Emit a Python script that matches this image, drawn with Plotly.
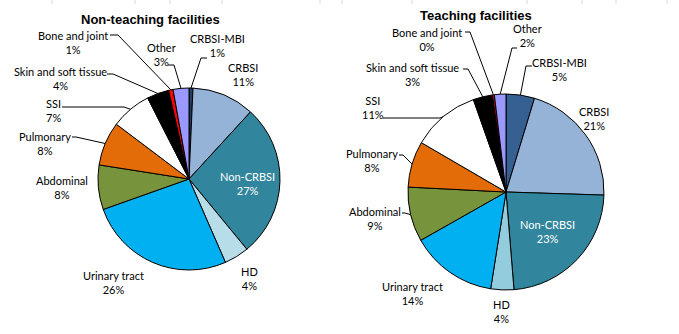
import math
import plotly.graph_objects as go

# Infection categories, clockwise from 12 o'clock
categories = ["CRBSI-MBI", "CRBSI", "Non-CRBSI", "HD", "Urinary tract", "Abdominal",
              "Pulmonary", "SSI", "Skin and soft tissue", "Bone and joint", "Other"]

# Share of infections (%)
non_teaching = [0.7, 11.1, 27.2, 4.4, 26.1, 7.9, 7.8, 7.2, 3.9, 0.8, 2.8]
teaching = [4.7, 20.8, 23.2, 3.8, 14.3, 9.0, 7.6, 11.2, 3.2, 0.3, 1.9]

titles = ["Non-teaching facilities", "Teaching facilities"]

colors_nt = ["#243F60", "#95B3D7", "#31859C", "#B7DEE8", "#00B0F0", "#77933C",
             "#E36C09", "#FFFFFF", "#000000", "#FF0000", "#9999FF"]
colors_t = ["#376092", "#95B3D7", "#31859C", "#93CDDD", "#00B0F0", "#77933C",
            "#E36C09", "#FFFFFF", "#000000", "#FF0000", "#9999FF"]

W, H = 679, 334
FONT = "Lato"

# pie geometry in pixels: centre x, centre y, radius
pies = [
    dict(values=non_teaching, colors=colors_nt, cx=189, cy=179, r=91, title_xy=(150, 19)),
    dict(values=teaching, colors=colors_t, cx=506, cy=192, r=98, title_xy=(476, 15)),
]

# label placement: category -> (text centre x, y, text colour, leader start, leader elbow)
label_layout = [
    {
        "CRBSI-MBI": (217, 45, "black", (207, 58), (201, 58)),
        "CRBSI": (243, 74, "black", None, None),
        "Non-CRBSI": (247, 183, "white", None, None),
        "HD": (249, 278, "black", None, None),
        "Urinary tract": (113, 282, "black", None, None),
        "Abdominal": (62, 187, "black", None, None),
        "Pulmonary": (45, 143, "black", (72, 137), (76, 137)),
        "SSI": (53, 110, "black", (62, 107), (124, 107)),
        "Skin and soft tissue": (60, 78, "black", (107, 74), (113, 74)),
        "Bone and joint": (73, 42, "black", (110, 35), (118, 35)),
        "Other": (161, 54, "black", (168, 65), (174, 65)),
    },
    {
        "CRBSI-MBI": (559, 69, "black", (532, 66), (526, 66)),
        "CRBSI": (594, 118, "black", None, None),
        "Non-CRBSI": (547, 231, "white", None, None),
        "HD": (501, 311, "black", None, None),
        "Urinary tract": (412, 293, "black", None, None),
        "Abdominal": (375, 218, "black", (402, 213), (405, 213)),
        "Pulmonary": (372, 160, "black", (399, 155), (403, 155)),
        "SSI": (373, 107, "black", (383, 118), (440, 118)),
        "Skin and soft tissue": (412, 74, "black", (463, 69), (468, 69)),
        "Bone and joint": (427, 39, "black", (465, 32), (470, 32)),
        "Other": (527, 35, "black", (517, 48), (512, 48)),
    },
]

fig = go.Figure()

# invisible pixel-space axes for labels and leader lines
fig.add_trace(go.Scatter(x=[0, W], y=[0, H], mode="markers",
                         marker=dict(opacity=0), hoverinfo="skip", showlegend=False))

annotations = []
shapes = []

for pie, layout_map, title in zip(pies, label_layout, titles):
    vals = pie["values"]
    cx, cy, r = pie["cx"], pie["cy"], pie["r"]
    fig.add_trace(go.Pie(
        labels=categories, values=vals, sort=False, direction="clockwise", rotation=0,
        marker=dict(colors=pie["colors"], line=dict(color="#000000", width=1)),
        textinfo="none", hoverinfo="label+percent", showlegend=False,
        domain=dict(x=[(cx - r) / W, (cx + r) / W], y=[(H - cy - r) / H, (H - cy + r) / H]),
    ))

    total = sum(vals)
    cum = 0.0
    for cat, v in zip(categories, vals):
        mid = (cum + v / 2) / total * 2 * math.pi
        cum += v
        pct = round(100 * v / total)
        tx, ty, tcol, start, elbow = layout_map[cat]
        annotations.append(dict(
            x=tx, y=ty, xref="x", yref="y", showarrow=False,
            text=f"{cat}<br>{pct}%", align="center",
            font=dict(family=FONT, size=11, color=tcol),
        ))
        if start is not None:
            ex = cx + r * math.sin(mid)
            ey = cy - r * math.cos(mid)
            shapes.append(dict(
                type="path", xref="x", yref="y", layer="above",
                path=f"M {start[0]},{start[1]} L {elbow[0]},{elbow[1]} L {ex:.1f},{ey:.1f}",
                line=dict(color="#000000", width=1),
            ))

    annotations.append(dict(
        x=pie["title_xy"][0], y=pie["title_xy"][1], xref="x", yref="y", showarrow=False,
        text=f"<b>{title}</b>", font=dict(family="Liberation Sans", size=13, color="#000000"),
    ))

# faint sheet gridline stubs along the top edge
for gx in [52, 135, 170, 222, 320, 342, 412, 527, 582, 616, 667]:
    shapes.append(dict(type="line", xref="x", yref="y", x0=gx, x1=gx, y0=0, y1=4,
                       line=dict(color="#D9D9D9", width=1), layer="below"))

fig.update_layout(
    width=W, height=H,
    margin=dict(l=0, r=0, t=0, b=0),
    paper_bgcolor="white", plot_bgcolor="white",
    xaxis=dict(range=[0, W], visible=False, fixedrange=True),
    yaxis=dict(range=[H, 0], visible=False, fixedrange=True),
    annotations=annotations, shapes=shapes,
    showlegend=False,
)

fig.write_html("out.html")
